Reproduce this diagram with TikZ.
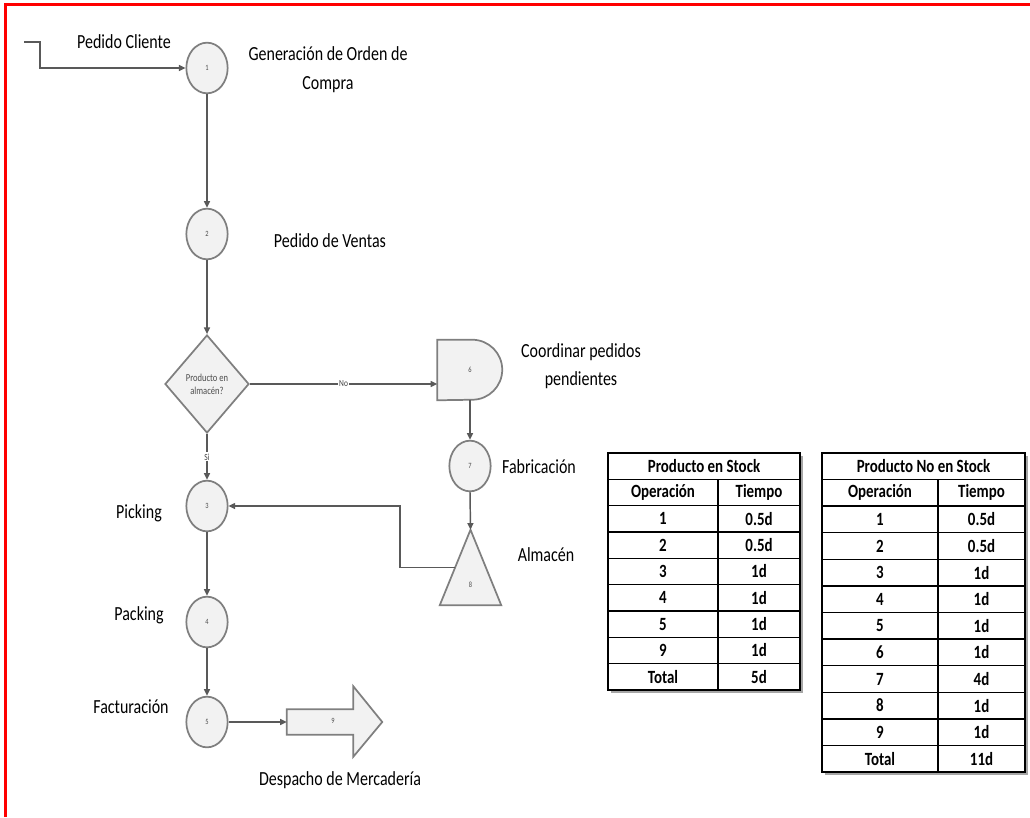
\documentclass[tikz,border=0pt]{standalone}
\usepackage{fontspec}
\setmainfont{Carlito}[FakeStretch=0.8]
\usetikzlibrary{shapes.geometric,arrows.meta,calc}
\definecolor{lnc}{HTML}{595959}
\definecolor{shp}{HTML}{7F7F7F}
\definecolor{shf}{HTML}{F2F2F2}
\definecolor{frm}{HTML}{FF0000}
\tikzset{
 conn/.style={draw=lnc, line width=1.1pt, -{Triangle[length=5pt,width=4.5pt]}},
 opcircle/.style={ellipse, draw=shp, fill=shf, line width=1.3pt, minimum width=31pt, minimum height=38pt, inner sep=0pt, font=\fontsize{6}{7}\selectfont, text=black!70},
 lbl/.style={font=\fontsize{15}{21.5}\selectfont, align=center, inner sep=0pt},
 tinylbl/.style={font=\fontsize{7}{8}\selectfont, text=black!75, inner sep=1pt},
 shapebox/.style={draw=none, inner sep=0pt},
 shapeline/.style={draw=shp, fill=shf, line width=1.3pt},
 cell/.style={font=\bfseries\fontsize{14}{16}\selectfont, inner sep=0pt},
 tline/.style={draw=black, line width=1.1pt},
}
\begin{document}
\begin{tikzpicture}[x=0.75pt,y=-0.75pt]
\useasboundingbox (0,0) rectangle (1030,817);
% red frame
\draw[frm, line width=1.6pt] (5.5,817) -- (5.5,4.5) -- (1030,4.5);

% flow nodes
\node[opcircle] (c1) at (207,68) {1};
\node[opcircle] (c2) at (207,234) {2};
\node[diamond, draw=shp, fill=shf, line width=1.3pt, minimum width=63pt, minimum height=73.5pt, inner sep=0pt] (dia) at (207,384) {};
\node[font=\fontsize{8}{9.5}\selectfont, text=black!70, align=center, inner sep=0pt] (diatext) at (207,384) {Producto en\\almacén?};
\node[opcircle] (c3) at (207,506) {3};
\node[opcircle] (c4) at (207,622) {4};
\node[opcircle] (c5) at (207,722) {5};

% D shape (6)
\node[shapebox, minimum width=48.75pt, minimum height=45pt] (d6) at (470,370) {};
\draw[shapeline] (d6.north west) -- ++(35,0) arc[start angle=90, end angle=-90, x radius=22.5pt, y radius=22.5pt] -- (d6.south west) -- cycle;
\node[font=\fontsize{6}{7}\selectfont, text=black!70] (d6t) at (d6) {6};

\node[opcircle] (c7) at (470,466) {7};

% triangle (8)
\node[shapebox, minimum width=45.75pt, minimum height=56.25pt] (tri) at (470.5,567.5) {};
\draw[shapeline] (tri.north) -- (tri.south east) -- (tri.south west) -- cycle;
\node[font=\fontsize{6}{7}\selectfont, text=black!70] (tri8) at (470.5,585) {8};
\coordinate (trileft) at ($(tri.north)!0.5!(tri.south west)$);

% block arrow (9)
\node[shapebox, minimum width=49.5pt, minimum height=18.75pt] (ar) at (320,722) {};
\draw[shapeline] (ar.north west) -- (ar.north east) -- ++(0,-23) -- ($(ar.east)+(29,0)$) -- ($(ar.south east)+(0,22)$) -- (ar.south east) -- (ar.south west) -- cycle;
\node[font=\fontsize{6}{7}\selectfont, text=black!70] (ar9) at (333,721) {9};

% connectors
\coordinate (start) at (24,42);
\draw[conn] (start) -- ++(16,0) |- (c1.west);
\draw[conn] (c1.south) -- (c2.north);
\draw[conn] (c2.south) -- (dia.north);
\draw[conn] (dia.east) -- node[tinylbl, fill=white, midway] (nolbl) {No} (dia.east -| d6.west);
\draw[conn] (dia.south) -- node[tinylbl, fill=white, midway] (silbl) {Si} (c3.north);
\draw[conn] (d6.south) -- (c7.north);
\draw[conn] (c7.south) -- (tri.north);
\draw[conn] (trileft) -- ++(-55,0) |- (c3.east);
\draw[conn] (c3.south) -- (c4.north);
\draw[conn] (c4.south) -- (c5.north);
\draw[conn] (c5.east) -- (ar.west);

% labels
\node[lbl] (lpc) at (124,42) {Pedido Cliente};
\node[lbl] (lgen) at (328,70) {Generación de Orden de\\Compra};
\node[lbl] (lpv) at (330,241) {Pedido de Ventas};
\node[lbl] (lcoor) at (581,366) {Coordinar pedidos\\pendientes};
\node[lbl] (lfab) at (539,467) {Fabricación};
\node[lbl] (lalm) at (546,555) {Almacén};
\node[lbl] (lpick) at (139,513) {Picking};
\node[lbl] (lpack) at (139,615) {Packing};
\node[lbl] (lfact) at (131,707) {Facturación};
\node[lbl] (ldesp) at (340,780) {Despacho de Mercadería};

% table 1
\fill[black!35] (611,456) rectangle (803,693);
\fill[white] (608,453) rectangle (800,690);
\foreach \i in {1,...,8} \draw[tline] (608,{453+\i*26.333}) -- (800,{453+\i*26.333});
\draw[tline] (718,479.33) -- (718,690);
\draw[tline] (608,453) rectangle (800,690);
\node[cell] (t1h) at (704,466.2) {Producto en Stock};
\node[cell] (t1op) at (663,492.5) {Operación};
\node[cell] (t1ti) at (759,492.5) {Tiempo};
\foreach \i/\a/\b in {2/1/0.5d,3/2/0.5d,4/3/1d,5/4/1d,6/5/1d,7/9/1d,8/Total/5d}{
  \node[cell] (t1a\i) at (663,{453+(\i+0.5)*26.333}) {\a};
  \node[cell] (t1b\i) at (759,{453+(\i+0.5)*26.333}) {\b};
}

% table 2
\fill[black!35] (825,456) rectangle (1028,775);
\fill[white] (822,453) rectangle (1025,772);
\foreach \i in {1,...,11} \draw[tline] (822,{453+\i*26.583}) -- (1025,{453+\i*26.583});
\draw[tline] (938,479.58) -- (938,772);
\draw[tline] (822,453) rectangle (1025,772);
\node[cell] (t2h) at (923.5,466.3) {Producto No en Stock};
\node[cell] (t2op) at (880,492.9) {Operación};
\node[cell] (t2ti) at (981.5,492.9) {Tiempo};
\foreach \i/\a/\b in {2/1/0.5d,3/2/0.5d,4/3/1d,5/4/1d,6/5/1d,7/6/1d,8/7/4d,9/8/1d,10/9/1d,11/Total/11d}{
  \node[cell] (t2a\i) at (880,{453+(\i+0.5)*26.583}) {\a};
  \node[cell] (t2b\i) at (981.5,{453+(\i+0.5)*26.583}) {\b};
}
\end{tikzpicture}
\end{document}
